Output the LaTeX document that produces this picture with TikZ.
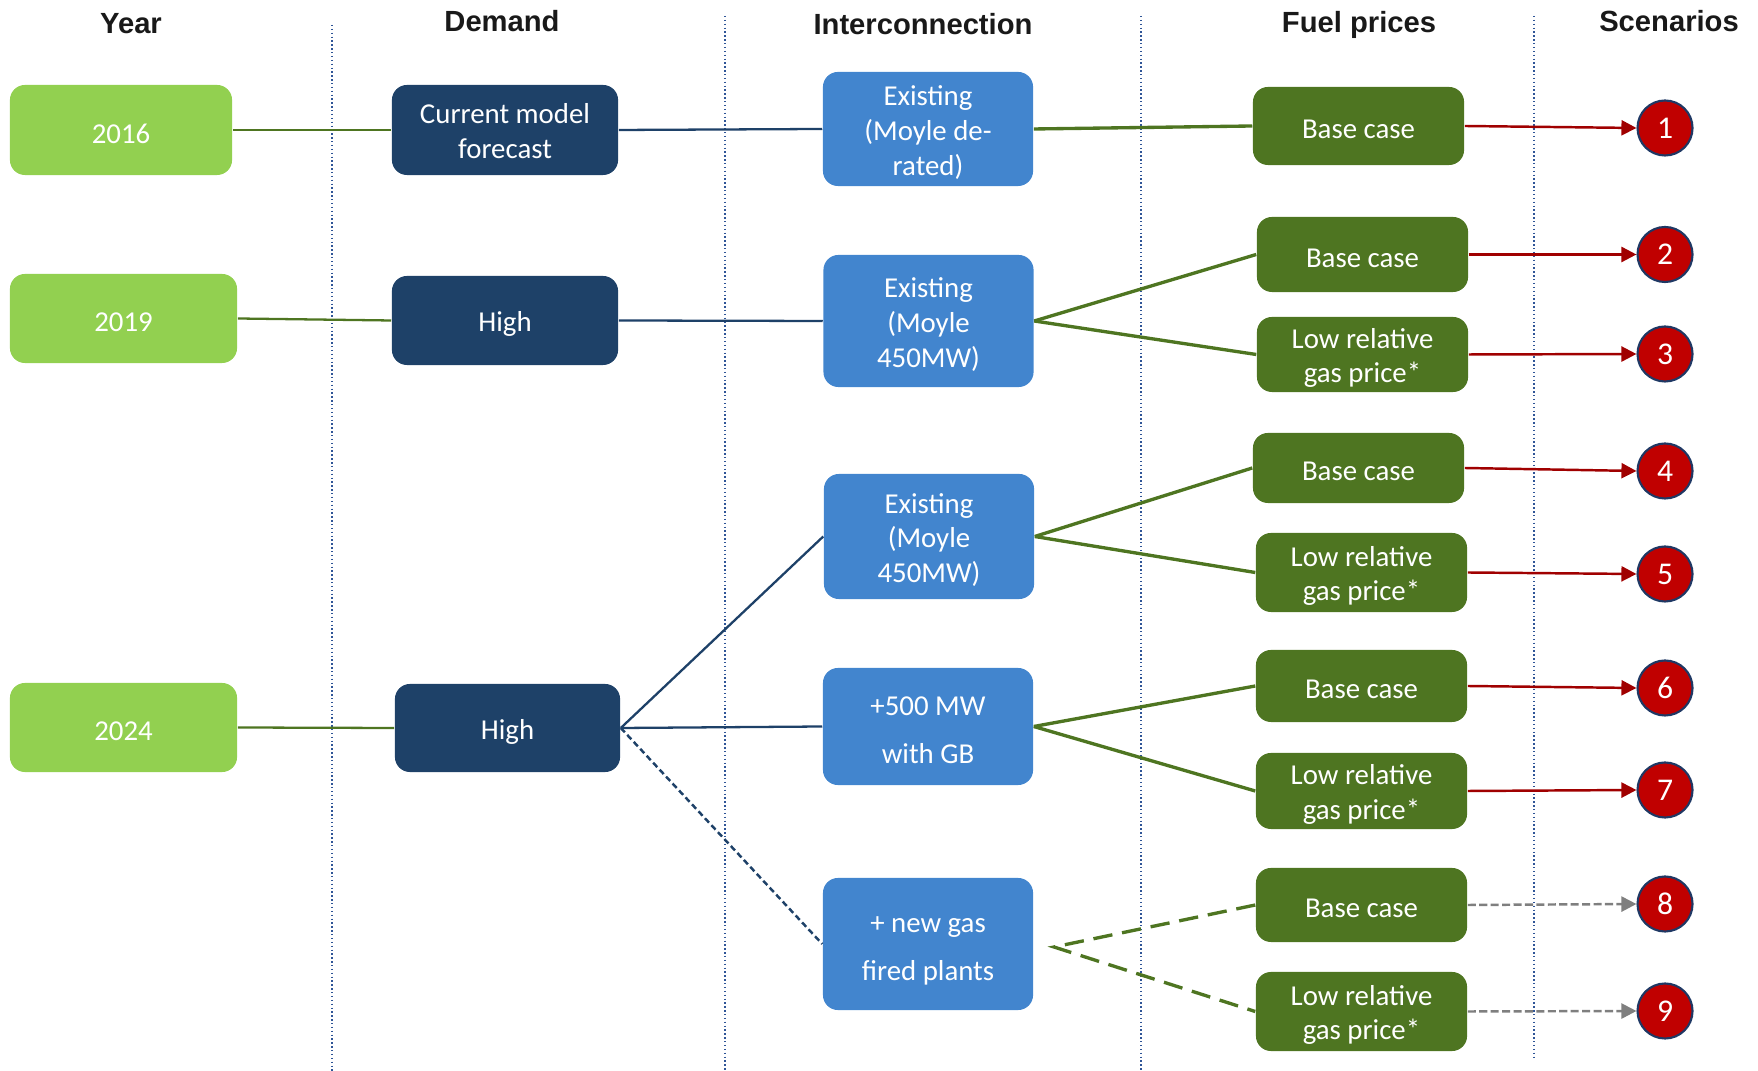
\documentclass[tikz,border=0pt]{standalone}
\usepackage{fontspec}
\setmainfont{Carlito}
\newfontfamily\headfont{Liberation Sans}
\usetikzlibrary{arrows.meta}
\definecolor{yeargreen}{HTML}{92D050}
\definecolor{navy}{HTML}{1E4168}
\definecolor{skyblue}{HTML}{4285CE}
\definecolor{olive}{HTML}{4E7521}
\definecolor{scenred}{HTML}{C00000}
\definecolor{arrowred}{HTML}{A00000}
\definecolor{ringblue}{HTML}{1F3864}
\definecolor{sepblue}{HTML}{2F5597}
\definecolor{dashgray}{HTML}{7F7F7F}
% centred lines of box text, set a little below the middle of the box
\newcommand\boxlines[2][-1pt]{\raisebox{#1}[\height][\depth]{\vbox{\halign{\hfil##\hfil\cr#2\crcr}}}}
\begin{document}
\begin{tikzpicture}[x=0.01cm,y=-0.01cm,
  box/.style={rounded corners=0.15cm, text=white, inner sep=0pt,
    font=\fontsize{8.2}{9.9}\selectfont},
  yearbox/.style={box, fill=yeargreen, minimum width=2.25cm, minimum height=0.89cm},
  demandbox/.style={box, fill=navy, minimum width=2.26cm, minimum height=0.89cm},
  linkbox/.style={box, fill=skyblue, minimum width=2.10cm},
  fuelbox/.style={box, fill=olive, minimum width=2.11cm},
  scen/.style={circle, fill=scenred, draw=ringblue, line width=0.6pt, minimum size=0.55cm,
    inner sep=0pt, text=white, font=\fontsize{9}{10}\selectfont},
  head/.style={font=\headfont\bfseries\fontsize{8.3}{10}\selectfont, text=black!90},
  sep/.style={sepblue, line width=0.4pt, dash pattern=on 0.4pt off 0.7pt},
  yearlink/.style={olive, line width=0.65pt},
  navylink/.style={navy, line width=0.65pt},
  fuellink/.style={olive, line width=0.95pt},
  scenarrow/.style={arrowred, line width=0.7pt, -{Triangle[length=0.15cm,width=0.15cm]}},
  grayarrow/.style={dashgray, line width=0.7pt, dash pattern=on 2.3pt off 0.95pt,
    -{Triangle[length=0.15cm,width=0.15cm]}}
]
\useasboundingbox (0,0) rectangle (1758,1071);

% column separators
\draw[sep] (332,25) -- (332,1071);
\draw[sep] (725,16) -- (725,1071);
\draw[sep] (1141,16) -- (1141,1071);
\draw[sep] (1534,16) -- (1534,1060);

% column headings
\node[head] (hyear) at (131,24) {Year};
\node[head] (hdemand) at (502,21) {Demand};
\node[head] (hlink) at (923,24) {Interconnection};
\node[head] (hfuel) at (1359,25) {Fuel prices};
\node[head] (hscen) at (1669,21) {Scenarios};

% years
\node[yearbox, minimum width=2.22cm, minimum height=0.90cm] (y16) at (121,130) {\boxlines{2016}};
\node[yearbox, minimum width=2.27cm] (y19) at (123.5,318.5) {\boxlines{2019}};
\node[yearbox, minimum width=2.27cm] (y24) at (123.5,727.5) {\boxlines{2024}};

% demand
\node[demandbox, minimum height=0.90cm] (d16) at (505,130) {\boxlines[-0.4pt]{Current model\cr forecast}};
\node[demandbox] (d19) at (505,320.5) {\boxlines{High}};
\node[demandbox, minimum width=2.25cm, minimum height=0.88cm] (d24) at (507.5,728) {\boxlines{High}};

% interconnection
\node[linkbox, minimum height=1.14cm] (i1) at (928,129) {\boxlines{Existing\cr (Moyle de-\cr rated)}};
\node[linkbox, minimum height=1.32cm] (i2) at (928.5,321) {\boxlines{Existing\cr (Moyle\cr 450MW)}};
\node[linkbox, minimum height=1.25cm] (i3) at (929,536.5) {\boxlines{Existing\cr (Moyle\cr 450MW)}};
\node[linkbox, minimum height=1.17cm, font=\fontsize{8.2}{13.7}\selectfont] (i4) at (928,726.5) {\boxlines{+500 MW\cr with GB}};
\node[linkbox, minimum height=1.32cm, font=\fontsize{8.2}{13.7}\selectfont] (i5) at (928,944) {\boxlines[-2pt]{+ new gas\cr fired plants}};

% fuel prices
\node[fuelbox, minimum height=0.78cm] (f1) at (1358.5,126) {\boxlines{Base case}};
\node[fuelbox, minimum height=0.75cm] (f2) at (1362.5,254.5) {\boxlines{Base case}};
\node[fuelbox, minimum height=0.75cm] (f3) at (1362.5,354.5) {\boxlines{Low relative\cr gas price*}};
\node[fuelbox, minimum height=0.70cm] (f4) at (1358.5,468) {\boxlines{Base case}};
\node[fuelbox, minimum height=0.79cm] (f5) at (1361.5,572.5) {\boxlines{Low relative\cr gas price*}};
\node[fuelbox, minimum height=0.72cm] (f6) at (1361.5,686) {\boxlines{Base case}};
\node[fuelbox, minimum height=0.76cm] (f7) at (1361.5,791) {\boxlines{Low relative\cr gas price*}};
\node[fuelbox, minimum height=0.74cm] (f8) at (1361.5,905) {\boxlines{Base case}};
\node[fuelbox, minimum height=0.79cm] (f9) at (1361.5,1011.5) {\boxlines{Low relative\cr gas price*}};

% scenarios
\node[scen] (s1) at (1665,128) {1};
\node[scen] (s2) at (1665,254.5) {2};
\node[scen] (s3) at (1665,354) {3};
\node[scen] (s4) at (1665,471) {4};
\node[scen] (s5) at (1665,574) {5};
\node[scen] (s6) at (1665,688) {6};
\node[scen] (s7) at (1665,790) {7};
\node[scen] (s8) at (1665,904) {8};
\node[scen] (s9) at (1665,1011) {9};

% year to demand
\draw[yearlink] (y16.east) -- (d16.west);
\draw[yearlink] (y19.east) -- (d19.west);
\draw[yearlink] (y24.east) -- (d24.west);

% demand to interconnection
\draw[navylink] (d16.east) -- (i1.west);
\draw[navylink] (d19.east) -- (i2.west);
\draw[navylink] (d24.east) -- (i3.west);
\draw[navylink] (d24.east) -- (i4.west);
\draw[navylink, line width=0.7pt, dash pattern=on 1.7pt off 1pt] (d24.east) -- (i5.west);

% interconnection to fuel prices
\draw[fuellink] (i1.east) -- (f1.west);
\draw[fuellink] (i2.east) -- (f2.west);
\draw[fuellink] (i2.east) -- (f3.west);
\draw[fuellink] (i3.east) -- (f4.west);
\draw[fuellink] (i3.east) -- (f5.west);
\draw[fuellink] (i4.east) -- (f6.west);
\draw[fuellink] (i4.east) -- (f7.west);
\coordinate (gasfork) at (1054,947);
\draw[fuellink, dash pattern=on 5.5pt off 2.8pt] (f8.west) -- (gasfork) -- (f9.west);

% fuel prices to scenarios
\draw[scenarrow] (f1.east) -- (s1.west);
\draw[scenarrow] (f2.east) -- (s2.west);
\draw[scenarrow] (f3.east) -- (s3.west);
\draw[scenarrow] (f4.east) -- (s4.west);
\draw[scenarrow] (f5.east) -- (s5.west);
\draw[scenarrow] (f6.east) -- (s6.west);
\draw[scenarrow] (f7.east) -- (s7.west);
\draw[grayarrow] (f8.east) -- (s8.west);
\draw[grayarrow] (f9.east) -- (s9.west);
\end{tikzpicture}
\end{document}
